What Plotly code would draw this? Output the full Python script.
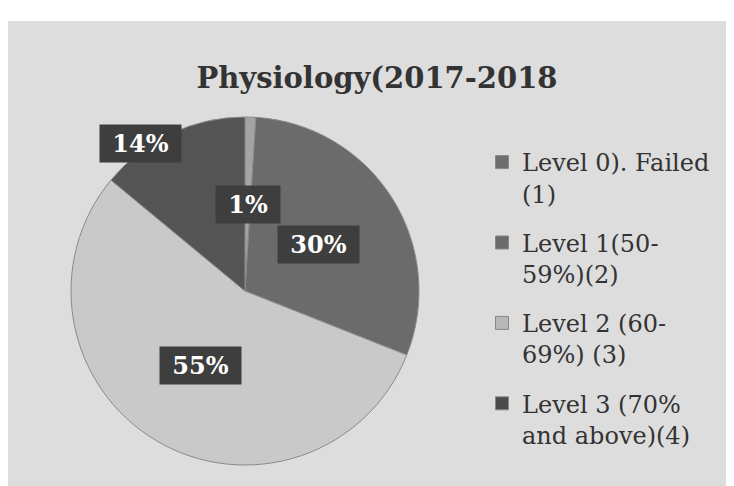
import math
import plotly.graph_objects as go

# ---- data ----
labels = ["Level 0). Failed<br>(1)", "Level 1(50-<br>59%)(2)",
          "Level 2 (60-<br>69%) (3)", "Level 3 (70%<br>and above)(4)"]
values = [1, 30, 55, 14]
title_text = "Physiology(2017-2018"

# ---- style ----
colors = ["#a4a4a4", "#6b6b6b", "#c9c9c9", "#545454"]
legend_colors = ["#6e6e6e", "#6b6b6b", "#b8b8b8", "#4a4a4a"]
label_r = [0.5, 0.5, 0.5, 1.04]       # label radius as fraction of pie radius
label_shift = [0, 0, 0, -10]           # angular nudge (deg) like Excel best-fit
W, H = 734, 486
OFF = 8                                # page body margin
CX, CY, R = 245 - OFF, 291 - OFF, 174  # pie centre / radius in figure pixels

dom_x = [(CX - R) / W, (CX + R) / W]
dom_y = [(H - CY - R) / H, (H - CY + R) / H]

fig = go.Figure(go.Pie(
    labels=labels, values=values, sort=False, direction="clockwise",
    rotation=0, textinfo="none", hoverinfo="label+percent",
    marker=dict(colors=colors, line=dict(color="#8a8a8a", width=1)),
    domain=dict(x=dom_x, y=dom_y), showlegend=False,
))

# legend entries (one group per category so the spacing matches the original)
for lab, col in zip(labels, legend_colors):
    fig.add_trace(go.Scatter(
        x=[None], y=[None], mode="markers", name=lab, legendgroup=lab,
        marker=dict(symbol="square", size=13, color=col,
                    line=dict(color="#888888", width=1)),
    ))

# percentage labels with dark boxes, positioned from the data
total = sum(values)
cum = 0
for i, v in enumerate(values):
    ang = math.radians(360 * (cum + v / 2) / total + label_shift[i])
    cum += v
    px = CX + R * label_r[i] * math.sin(ang)
    py = (H - CY) + R * label_r[i] * math.cos(ang)
    fig.add_annotation(
        x=px / W, y=py / H, xref="paper", yref="paper",
        xanchor="center", yanchor="middle",
        text=f"<b>&nbsp;{round(100 * v / total)}%&nbsp;</b>", showarrow=False,
        font=dict(family="DejaVu Serif", size=24, color="white"),
        bgcolor="#3e3e3e", borderpad=4,
    )

# scanned page background
fig.add_shape(type="rect", xref="paper", yref="paper", x0=0, x1=1, y0=0,
              y1=1 - 13 / H, fillcolor="#dddddd", line=dict(width=0), layer="below")

fig.update_layout(
    width=W, height=H, margin=dict(l=0, r=0, t=0, b=0),
    paper_bgcolor="white", plot_bgcolor="rgba(0,0,0,0)",
    xaxis=dict(visible=False), yaxis=dict(visible=False),
    title=dict(text=f"<b>{title_text}</b>", x=369 / W, xanchor="center",
               y=1 - 70 / H, yanchor="middle",
               font=dict(family="DejaVu Serif", size=29, color="#333333")),
    showlegend=True,
    legend=dict(x=474 / W, y=1 - 132 / H, xanchor="left", yanchor="top",
                bgcolor="rgba(0,0,0,0)", valign="top", tracegroupgap=15,
                font=dict(family="DejaVu Serif", size=24, color="#333333"),
                itemsizing="trace"),
)

fig.write_html("out.html")
